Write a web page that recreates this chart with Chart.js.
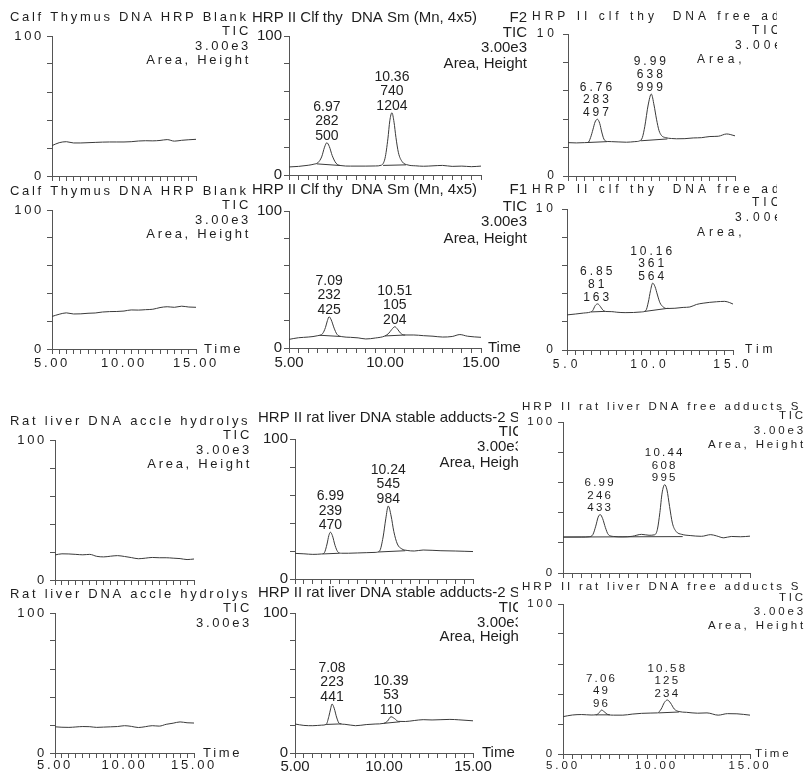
<!DOCTYPE html>
<html>
<head>
<meta charset="utf-8">
<script src="https://cdn.jsdelivr.net/npm/chart.js@4.4.1/dist/chart.umd.min.js"></script>
<style>
html,body{margin:0;padding:0;background:#fff;}
#fig{position:relative;width:806px;height:772px;overflow:hidden;background:#fff;}
#fig canvas{position:absolute;}
</style>
</head>
<body>
<div id="fig"></div>
<script>
// tick labels
const xTickValues = [5, 10, 15];
const xTickText = ['5.00', '10.00', '15.00'];
const xTickTextShort = ['5.0', '10.0', '15.0'];
const yTickValues = [0, 50, 100];
const yTickText = ['0', '%', '100'];
const yTickTextShort = ['0', '%', '10'];

// blank runs, sampled every 0.5 min
const timeGrid = [5, 5.5, 6, 6.5, 7, 7.5, 8, 8.5, 9, 9.5, 10, 10.5, 11, 11.5, 12, 12.5, 13, 13.5, 14, 14.5, 15];
const calfBlank1 = [21.7, 23.8, 24.5, 23.6, 23.6, 23.8, 24.0, 24.2, 24.3, 24.3, 24.3, 24.5, 25.0, 25.2, 25.1, 25.4, 26.0, 24.9, 25.5, 25.9, 26.2];
const calfBlank2 = [23.4, 25.0, 26.0, 25.2, 25.3, 25.7, 25.9, 26.6, 26.9, 27.0, 27.3, 28.1, 28.0, 28.3, 28.6, 29.8, 30.4, 30.0, 30.8, 30.2, 30.0];
const ratBlank1 = [17.9, 18.7, 18.6, 18.3, 18.0, 18.3, 16.9, 16.5, 17.0, 17.4, 16.8, 16.0, 15.2, 15.6, 16.1, 15.9, 15.9, 15.6, 15.3, 14.6, 15.0];
const ratBlank2 = [18.7, 18.4, 18.3, 18.6, 18.9, 18.8, 18.3, 18.5, 18.7, 18.9, 19.5, 19.0, 18.2, 18.8, 19.5, 19.2, 20.5, 21.3, 22.2, 21.6, 21.4];

// runs with peaks: [time, %]
const calfSmF2 = [[5,5.8],[5.5,6.2],[6,7.0],[6.3,7.8],[6.5,8.8],[6.7,13],[6.85,20],[6.97,23.2],[7.1,20.5],[7.25,14],[7.45,8.5],[7.7,6.8],[8.2,6.4],[9,6.4],[9.5,6.5],[9.8,7.0],[10,12],[10.15,26],[10.25,39],[10.36,44.8],[10.47,38],[10.57,27],[10.7,16],[10.9,9.5],[11.2,7.2],[11.6,6.6],[12,6.3],[12.5,6.6],[13,6.9],[13.5,6.2],[14,6.4],[14.5,6.0],[15,6.4]];
const calfSmF1 = [[5,6.3],[5.5,7.5],[6,8.0],[6.5,9.0],[6.75,10.5],[6.9,15],[7.0,20],[7.09,22.8],[7.2,20.5],[7.35,14.5],[7.5,10],[7.75,8.3],[8.2,7.8],[8.6,7.4],[9,6.6],[9.5,7.3],[10,8.8],[10.2,10.8],[10.35,13.5],[10.51,15.5],[10.65,13.8],[10.8,11],[11,9.5],[11.5,9.5],[12,9.0],[12.5,8.6],[13,8.0],[13.5,8.4],[13.9,9.8],[14.3,8.6],[15,7.8]];
const calfFreeF2 = [[5,23.5],[5.5,23.3],[6,23.5],[6.2,23.6],[6.35,27],[6.5,33],[6.62,38],[6.76,40],[6.9,37],[7.02,31],[7.15,26],[7.35,24.3],[7.6,24.2],[8,24.0],[8.5,23.8],[9,24.2],[9.3,24.8],[9.45,27],[9.6,35],[9.8,50],[9.99,57.7],[10.15,50],[10.3,40],[10.45,32],[10.6,28.5],[10.85,27],[11.2,26.4],[11.5,26.2],[12,26.3],[12.5,26.8],[13,27.0],[13.5,27.8],[14,28.0],[14.5,29.6],[15,28.3]];
const calfFreeF1 = [[5,24.9],[5.5,25.5],[6,26.2],[6.4,26.9],[6.55,28],[6.7,31.5],[6.85,32.7],[7.0,31],[7.15,28.5],[7.35,27.3],[7.7,27.2],[8,26.8],[8.5,26.5],[9,26.6],[9.5,27.0],[9.75,28],[9.9,34],[10.03,42],[10.16,47.4],[10.3,45],[10.45,39],[10.6,33.5],[10.8,30.5],[11,29.4],[11.5,29.6],[12,30.2],[12.4,30.5],[12.8,32.3],[13.2,33.2],[13.6,33.8],[14,34.2],[14.5,34.5],[14.8,33.6],[15,32.6]];
const ratStable1 = [[5,18.3],[5.5,18.0],[6,17.6],[6.5,17.9],[6.65,18.8],[6.8,25],[6.9,31],[6.99,33.4],[7.1,31],[7.25,24],[7.4,19.5],[7.6,18.4],[8,18.4],[8.5,18.6],[9,18.8],[9.5,19.0],[9.75,20],[9.95,30],[10.1,43],[10.24,52.1],[10.4,45],[10.55,34],[10.75,25],[11,21.5],[11.3,20.4],[11.7,20.0],[12.2,20.7],[12.7,20.5],[13.2,20.2],[14,20.0],[14.5,19.8],[15,19.6]];
const ratStable2 = [[5,20.7],[5.5,19.7],[6,19.5],[6.5,19.9],[6.75,20.4],[6.9,26],[7.0,31.5],[7.08,35],[7.2,32],[7.35,25],[7.5,21],[7.8,20.5],[8.4,19.5],[9,20.3],[9.5,20.7],[10,21.2],[10.2,22.8],[10.39,25.9],[10.6,24.5],[10.8,22.6],[11.2,22.5],[11.7,23.2],[12.2,23.8],[12.7,23.6],[13.2,23.8],[13.7,24.0],[14.2,23.7],[15,23.0]];
const ratFree1 = [[5,23.8],[6,23.8],[6.4,24.0],[6.6,25.5],[6.75,31],[6.88,37],[6.99,38.7],[7.12,36],[7.27,30],[7.42,25.5],[7.7,24.2],[8.2,23.9],[8.7,24.3],[9.2,25.6],[9.6,25.0],[9.9,25.3],[10.05,29],[10.18,40],[10.3,53],[10.44,58.5],[10.56,55],[10.7,44],[10.85,33],[11.05,27.5],[11.35,25.6],[11.8,24.8],[12.4,24.3],[12.9,25.4],[13.2,24.6],[13.6,23.3],[14,24.2],[14.5,24.0],[15,24.4]];
const ratFree2 = [[5,24.9],[5.5,26.0],[6,26.3],[6.5,26.0],[6.8,26.2],[6.95,27.8],[7.06,29.3],[7.2,28.2],[7.4,26.3],[7.7,25.9],[8.2,25.9],[8.7,26.6],[9.2,27.1],[9.7,27.3],[10.05,27.4],[10.25,30],[10.42,34.3],[10.58,36.0],[10.75,34],[10.95,30],[11.2,28.3],[11.6,27.8],[12.2,27.2],[12.7,27.4],[13.3,25.9],[13.8,26.9],[14.3,26.8],[15,25.9]];

// integration baselines: [t1, y1, t2, y2]
const calfSmF2Base = [[6.45,8.0,7.7,6.8],[9.9,6.9,11.1,7.3]];
const calfSmF1Base = [[6.6,9.3,7.7,8.4],[10.0,8.8,11.05,9.5]];
const calfFreeF2Base = [[6.2,23.6,7.35,24.2],[9.35,24.8,10.95,26.1]];
const calfFreeF1Base = [[6.45,27.0,7.3,27.4],[9.65,27.3,11.1,29.6]];
const ratStable1Base = [[6.55,17.9,7.5,18.4],[9.68,19.3,11.2,20.2]];
const ratStable2Base = [[6.75,20.4,7.6,20.8],[10.0,21.2,10.9,22.3]];
const ratFree1Base = [[5.0,23.8,11.4,24.1]];
const ratFree2Base = [[6.75,26.1,7.5,26.1],[10.1,27.4,11.2,28.0]];

// peak labels: [time, [rt, area, height]]
const calfSmF2Peaks = [[6.97,['6.97','282','500']],[10.36,['10.36','740','1204']]];
const calfSmF1Peaks = [[7.09,['7.09','232','425']],[10.51,['10.51','105','204']]];
const calfFreeF2Peaks = [[6.76,['6.76','283','497']],[9.99,['9.99','638','999']]];
const calfFreeF1Peaks = [[6.85,['6.85','81','163']],[10.16,['10.16','361','564']]];
const ratStable1Peaks = [[6.99,['6.99','239','470']],[10.24,['10.24','545','984']]];
const ratStable2Peaks = [[7.08,['7.08','223','441']],[10.39,['10.39','53','110']]];
const ratFree1Peaks = [[6.99,['6.99','246','433']],[10.44,['10.44','608','995']]];
const ratFree2Peaks = [[7.06,['7.06','49','96']],[10.58,['10.58','125','234']]];

const FONT = '"Liberation Sans", Arial, sans-serif';
const INK = '#1e1e1e';
const LINE = '#3a3a3a';
const fig = document.getElementById('fig');
const grid = t => timeGrid.map((x, i) => [x, t[i]]);

function pickLabel(v, values, text) {
  const i = values.findIndex(k => Math.abs(k - v) < 1e-6);
  return i < 0 || !text ? '' : text[i];
}

function textPlugin(p) {
  return {
    id: 'panelText',
    beforeDraw(chart) { chart.ctx.letterSpacing = (p.ls || 0) + 'px'; },
    afterDraw(chart) {
      const ctx = chart.ctx, ox = p.box[0], oy = p.box[1];
      ctx.save();
      ctx.fillStyle = INK;
      ctx.textBaseline = 'middle';
      ctx.letterSpacing = (p.ls || 0) + 'px';
      ctx.font = p.font + 'px ' + FONT;
      p.texts.forEach(([s, x, y, align]) => {
        ctx.textAlign = align || 'left';
        ctx.fillText(s, x - ox, y - oy);
      });
      const xs = chart.scales.x, ys = chart.scales.y;
      ctx.textAlign = 'center';
      ctx.letterSpacing = (p.peakLs || 0) + 'px';
      ctx.font = p.peakFont + 'px ' + FONT;
      (p.peaks || []).forEach(([t, lines]) => {
        const top = Math.max(...p.trace.filter(d => Math.abs(d[0] - t) < 0.3).map(d => d[1]));
        const px = xs.getPixelForValue(t);
        const py = ys.getPixelForValue(top) - p.gap;
        lines.forEach((s, i) => ctx.fillText(s, px, py - (lines.length - 1 - i) * p.lineH));
      });
      ctx.restore();
    }
  };
}

function makePanel(p) {
  const [bx, by, bw, bh] = p.box;
  const [l, t, r, b] = p.area;
  const yW = l - bx;
  const xH = by + bh - b;
  const cv = document.createElement('canvas');
  cv.width = bw; cv.height = bh;
  cv.style.left = bx + 'px'; cv.style.top = by + 'px';
  cv.style.width = bw + 'px'; cv.style.height = bh + 'px';
  fig.appendChild(cv);

  const line = {borderColor: LINE, borderWidth: 1, pointRadius: 0, fill: false};
  const sets = [Object.assign({data: p.trace.map(([x, y]) => ({x, y})), cubicInterpolationMode: 'monotone'}, line)];
  (p.base || []).forEach(([x1, y1, x2, y2]) => {
    sets.push(Object.assign({data: [{x: x1, y: y1}, {x: x2, y: y2}], tension: 0}, line));
  });
  const axisGrid = {drawOnChartArea: false, drawTicks: true, tickLength: 5, color: '#555', lineWidth: 1};
  const axisBorder = {display: true, color: '#555', width: 1};

  new Chart(cv, {
    type: 'line',
    data: {datasets: sets},
    options: {
      responsive: false, animation: false, events: [],
      layout: {padding: {left: 0, top: t - by, right: bx + bw - r, bottom: 0}},
      plugins: {legend: {display: false}, tooltip: {enabled: false}},
      scales: {
        x: {
          type: 'linear', min: 5, max: 15,
          afterFit: s => { s.height = xH; },
          ticks: {stepSize: 0.5, autoSkip: false, maxRotation: 0, minRotation: 0, padding: p.xPad || 0,
            color: INK, font: {size: p.font, family: FONT},
            callback: v => pickLabel(v, xTickValues, p.xText)},
          grid: axisGrid, border: axisBorder
        },
        y: {
          min: 0, max: 100,
          afterFit: s => { s.width = yW; },
          ticks: {stepSize: 10, padding: p.yPad, color: INK, font: {size: p.font, family: FONT},
            callback: v => pickLabel(v, yTickValues, p.yText)},
          grid: axisGrid, border: axisBorder
        }
      }
    },
    plugins: [textPlugin(p)]
  });
}

const calfTitle = 'Calf Thymus DNA HRP Blank';
const smTitle = 'HRP II Clf thy  DNA Sm (Mn, 4x5)';
const freeTitle = 'HRP II clf thy  DNA free adducts';
const ratTitle = 'Rat liver DNA accle hydrolys';
const stableTitle = 'HRP II rat liver DNA stable adducts-2 Sm';
const ratFreeTitle = 'HRP II rat liver DNA free adducts S';

const col1 = {font: 13, ls: 2.7, yPad: 3, yText: yTickText};
const col2 = {font: 15, ls: 0, yPad: 2, yText: yTickText, peakFont: 14, peakLs: 0, gap: 7, lineH: 14.5};
const col3a = {font: 12, ls: 4.0, yPad: 5, yText: yTickTextShort, peakFont: 12, peakLs: 3.0, gap: 6.5, lineH: 12.7};
const col3b = {font: 11.5, ls: 2.85, yPad: 3, yText: yTickText, peakFont: 11.5, peakLs: 2.2, gap: 6.5, lineH: 12.5};

const panels = [
  Object.assign({}, col1, {box: [0, 0, 258, 190], area: [52, 36, 196, 176], trace: grid(calfBlank1),
    texts: [[calfTitle, 10, 17], ['TIC', 251, 31, 'right'], ['3.00e3', 251, 46, 'right'], ['Area, Height', 251, 60, 'right']]}),
  Object.assign({}, col1, {box: [0, 178, 258, 200], area: [52, 210, 196, 349], trace: grid(calfBlank2), xText: xTickText, xPad: 2,
    texts: [[calfTitle, 10, 191], ['TIC', 251, 205, 'right'], ['3.00e3', 251, 220, 'right'], ['Area, Height', 251, 234, 'right'], ['Time', 204, 349]]}),
  Object.assign({}, col1, {box: [0, 398, 258, 195], area: [55, 440, 194, 580], trace: grid(ratBlank1),
    texts: [[ratTitle, 10, 421], ['TIC', 252, 435, 'right'], ['3.00e3', 252, 450, 'right'], ['Area, Height', 252, 464, 'right']]}),
  Object.assign({}, col1, {box: [0, 580, 258, 192], area: [55, 613, 194, 753], trace: grid(ratBlank2), xText: xTickText, xPad: 0,
    texts: [[ratTitle, 10, 594], ['TIC', 252, 608, 'right'], ['3.00e3', 252, 623, 'right'], ['Time', 203, 753]]}),

  Object.assign({}, col2, {box: [250, 0, 280, 190], area: [289, 36, 481, 175], trace: calfSmF2, base: calfSmF2Base, peaks: calfSmF2Peaks,
    texts: [[smTitle, 252, 18], ['F2', 527, 18, 'right'], ['TIC', 527, 33, 'right'], ['3.00e3', 527, 48, 'right'], ['Area, Height', 527, 64, 'right']]}),
  Object.assign({}, col2, {box: [250, 178, 280, 200], area: [289, 211, 481, 348], trace: calfSmF1, base: calfSmF1Base, peaks: calfSmF1Peaks, xText: xTickText, xPad: 1,
    texts: [[smTitle, 252, 190], ['F1', 527, 190, 'right'], ['TIC', 527, 207, 'right'], ['3.00e3', 527, 222, 'right'], ['Area, Height', 527, 239, 'right'], ['Time', 488, 348]]}),
  Object.assign({}, col2, {box: [250, 398, 268, 195], area: [295, 439, 473, 579], trace: ratStable1, base: ratStable1Base, peaks: ratStable1Peaks,
    texts: [[stableTitle, 258, 418], ['TIC', 523, 432, 'right'], ['3.00e3', 523, 447, 'right'], ['Area, Height', 523, 463, 'right']]}),
  Object.assign({}, col2, {box: [250, 580, 268, 192], area: [295, 613, 473, 753], trace: ratStable2, base: ratStable2Base, peaks: ratStable2Peaks, xText: xTickText, xPad: 0,
    texts: [[stableTitle, 258, 593], ['TIC', 523, 608, 'right'], ['3.00e3', 523, 623, 'right'], ['Area, Height', 523, 637, 'right'], ['Time', 482, 753]]}),

  Object.assign({}, col3a, {box: [515, 0, 262, 190], area: [568, 34, 735, 176], trace: calfFreeF2, base: calfFreeF2Base, peaks: calfFreeF2Peaks,
    texts: [[freeTitle, 532, 17], ['TIC', 752, 31], ['3.00e3', 735, 46], ['Area,', 697, 60]]}),
  Object.assign({}, col3a, {box: [515, 178, 262, 200], area: [567, 209, 733, 350], trace: calfFreeF1, base: calfFreeF1Base, peaks: calfFreeF1Peaks, xText: xTickTextShort, xPad: 2,
    texts: [[freeTitle, 532, 190], ['TIC', 752, 203], ['3.00e3', 735, 218], ['Area,', 697, 233], ['Time', 745, 350]]}),
  Object.assign({}, col3b, {box: [515, 398, 291, 195], area: [563, 422, 750, 573], trace: ratFree1, base: ratFree1Base, peaks: ratFree1Peaks,
    texts: [[ratFreeTitle, 522, 407], ['TIC', 806, 416, 'right'], ['3.00e3', 806, 431, 'right'], ['Area, Height', 806, 445, 'right']]}),
  Object.assign({}, col3b, {box: [515, 578, 291, 194], area: [563, 604, 750, 754], trace: ratFree2, base: ratFree2Base, peaks: ratFree2Peaks, xText: xTickText, xPad: 0,
    texts: [[ratFreeTitle, 522, 587], ['TIC', 806, 598, 'right'], ['3.00e3', 806, 612, 'right'], ['Area, Height', 806, 626, 'right'], ['Time', 755, 754]]})
];

panels.forEach(makePanel);
</script>
</body>
</html>
